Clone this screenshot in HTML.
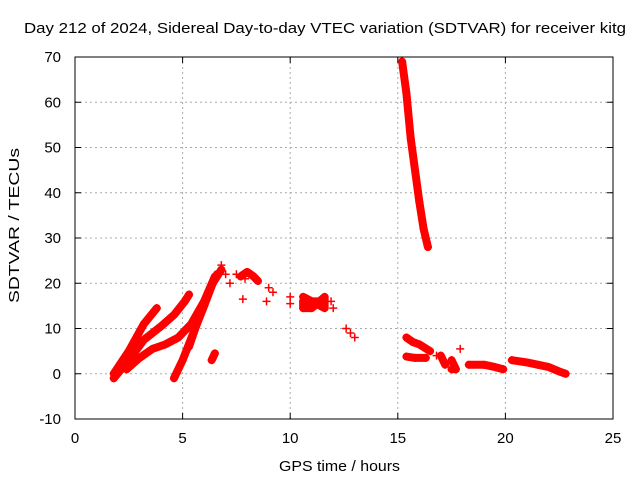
<!DOCTYPE html>
<html><head><meta charset="utf-8"><style>
body{margin:0;background:#fff}
svg{display:block;font-family:"Liberation Sans",sans-serif}
</style></head><body>
<svg width="640" height="480" xmlns="http://www.w3.org/2000/svg">
<rect width="640" height="480" fill="#fff"/>
<text x="24" y="33" font-size="15" textLength="602" lengthAdjust="spacingAndGlyphs">Day 212 of 2024, Sidereal Day-to-day VTEC variation (SDTVAR) for receiver kitg</text>
<g id="grid"></g>
<g id="marks"></g>
<rect x="75" y="57" width="538" height="362" fill="none" stroke="#000"/>
<g id="axes" font-size="15"></g>
<text x="279" y="471" font-size="15" textLength="121" lengthAdjust="spacingAndGlyphs">GPS time / hours</text>
<text transform="translate(19,303) rotate(-90)" font-size="15" textLength="155" lengthAdjust="spacingAndGlyphs">SDTVAR / TECUs</text>
</svg>
<script>
const xTicks=[0,5,10,15,20,25];
const yTicks=[-10,0,10,20,30,40,50,60,70];
const trackA=[[1.8,0],[2.5,5],[3.2,11],[3.8,14.5]];
const trackB=[[1.8,-1],[2.5,3],[3.2,7.5],[4,10.5],[4.6,13],[5.1,16],[5.3,17.5]];
const trackC=[[2.4,1],[3,3.5],[3.6,5.5],[4.2,6.5],[4.8,8],[5.4,11],[6,16],[6.5,21.5]];
const trackD=[[4.6,-1],[5,3],[5.5,9],[6,15],[6.4,20],[6.8,23]];
const trackE=[[5.3,6],[5.8,13],[6.3,19],[6.6,22]];
const trackF=[[6.35,3],[6.5,4.5]];
const trackG=[[7.7,21.5],[8,22.5],[8.3,21.5],[8.5,20.5]];
const trackH=[[10.6,17],[11,16],[11.4,15],[11.6,14.5],[11.6,17],[11,14.5],[10.6,14.5],[10.6,16],[11.5,16]];
const trackI=[[15.2,69],[15.4,62],[15.6,52],[15.8,45],[16,38],[16.2,32],[16.4,28]];
const trackJ=[[15.4,8],[15.7,7],[16,6.5],[16.5,5]];
const trackK=[[15.4,3.8],[15.8,3.5],[16.3,3.5]];
const trackL=[[17,4],[17.2,2]];
const trackM=[[17.5,3],[17.7,1],[17.5,1]];
const trackN=[[18.3,2],[19,2],[19.5,1.5],[19.9,1]];
const trackO=[[20.3,3],[21,2.5],[21.5,2],[22,1.5],[22.5,0.5],[22.8,0]];
const looseX=[6.8,7,7.2,7.5,7.9,9,9.2,8.9,7.8,10,10,11.9,12,12.6,12.8,13,16.8,17.9];
const looseY=[24,22,20,22,21,19,18,16,16.5,17,15.5,16,14.5,10,9,8,4,5.5];
const tracks=[trackA,trackB,trackC,trackD,trackE,trackF,trackG,trackH,trackI,trackJ,trackK,trackL,trackM,trackN,trackO];
const NS='http://www.w3.org/2000/svg';
const X=h=>75+h*538/25, Y=v=>57+(70-v)*362/80;
const grid=document.getElementById('grid'),axes=document.getElementById('axes'),marks=document.getElementById('marks');
function mk(t,a,p){const e=document.createElementNS(NS,t);for(const k in a)e.setAttribute(k,a[k]);p.appendChild(e);return e;}
xTicks.forEach(t=>{
 if(t>0&&t<25){const l=mk('line',{x1:X(t),x2:X(t),y1:57,y2:419,stroke:'#aaa','stroke-dasharray':'2,3'},grid);
 
 }
 mk('line',{x1:X(t),x2:X(t),y1:419,y2:413,stroke:'#000'},axes);
 mk('line',{x1:X(t),x2:X(t),y1:57,y2:63,stroke:'#000'},axes);
 const tx=mk('text',{x:X(t),y:443,'text-anchor':'middle'},axes);tx.textContent=t;
 
 
});
yTicks.forEach(t=>{
 if(t>-10&&t<70){const l=mk('line',{x1:75,x2:613,y1:Y(t),y2:Y(t),stroke:'#aaa','stroke-dasharray':'2,3'},grid);
 
 }
 mk('line',{x1:75,x2:81,y1:Y(t),y2:Y(t),stroke:'#000'},axes);
 mk('line',{x1:607,x2:613,y1:Y(t),y2:Y(t),stroke:'#000'},axes);
 const tx=mk('text',{x:61,y:Y(t)+5,'text-anchor':'end'},axes);tx.textContent=t;
 
 
});
function plus(h,v){const p=mk('path',{d:`M${X(h)-4},${Y(v)}h8M${X(h)},${Y(v)-4}v8`,stroke:'#f00','stroke-width':1.5},marks);
 
 }
tracks.forEach(tr=>{
 const pl=mk('polyline',{points:tr.map(p=>X(p[0])+','+Y(p[1])).join(' '),fill:'none',stroke:'#f00','stroke-width':8,'stroke-linejoin':'round','stroke-linecap':'round'},marks);
 
 
 tr.forEach(p=>plus(p[0],p[1]));
});
looseX.forEach((h,i)=>plus(h,looseY[i]));
</script>
</body></html>
